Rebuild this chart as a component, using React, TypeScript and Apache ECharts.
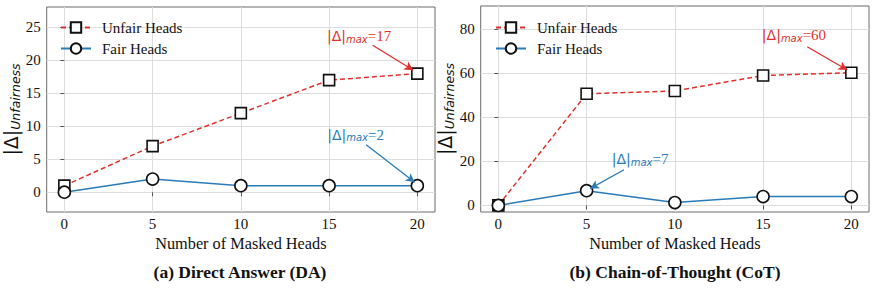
import React, { useEffect, useRef } from "react";
import * as echarts from "echarts";

const X_VALUES = [0, 5, 10, 15, 20];
const DA_UNFAIR = [1, 7, 12, 17, 18];
const DA_FAIR = [0, 2, 1, 1, 1];
const COT_UNFAIR = [0, 50.7, 52, 59, 60.3];
const COT_FAIR = [0, 6.7, 1.3, 4, 4];
const X_TICKS = [0, 5, 10, 15, 20];
const DA_Y_TICKS = [0, 5, 10, 15, 20, 25];
const COT_Y_TICKS = [0, 20, 40, 60, 80];
const PANEL_TITLES = ["(a) Direct Answer (DA)", "(b) Chain-of-Thought (CoT)"];
const LEGEND_NAMES = ["Unfair Heads", "Fair Heads"];

// annotations: [textX, textY, arrowStartX, arrowStartY, arrowEndX, arrowEndY, value]
const DA_UNFAIR_NOTE = [16.7, 23.7, 17.47, 22.3, 19.77, 18.5, 17];
const DA_FAIR_NOTE = [16.5, 8.7, 17.1, 7.2, 19.85, 1.5, 2];
const COT_UNFAIR_NOTE = [16.75, 77.4, 17.5, 72.1, 19.77, 61.5, 60];
const COT_FAIR_NOTE = [8.03, 21, 7.12, 16.2, 5.2, 7.6, 7];

const RED = "#e0322d";
const BLUE = "#2a7bb9";
const SERIF = "Times New Roman";
const SANS = "DejaVu Sans";

const pairs = (ys: number[]) => X_VALUES.map((x, i) => [x, ys[i]]);

const noteRich = (color: string) => ({
  d: { fontFamily: SANS, fontSize: 14, color, verticalAlign: "middle", textBorderWidth: 0 },
  s: { fontFamily: SANS, fontSize: 10, fontStyle: "italic", color, padding: [6, 0, 0, 0], verticalAlign: "middle", textBorderWidth: 0 },
  n: { fontFamily: SERIF, fontSize: 15, color, verticalAlign: "middle", textBorderWidth: 0 },
});

export default function App() {
  const ref = useRef<HTMLDivElement>(null);
  useEffect(() => {
    if (!ref.current) return;
    const chart = echarts.init(ref.current, undefined, { renderer: "svg" });

    const grids = [
      { left: 46.7, top: 7, width: 388.3, height: 205 },
      { left: 480.7, top: 6, width: 388.3, height: 206 },
    ];
    const yRanges = [
      [-3, 28.1],
      [-3, 90.6],
    ];
    const yTicks = [DA_Y_TICKS, COT_Y_TICKS];
    const data = [
      [DA_UNFAIR, DA_FAIR],
      [COT_UNFAIR, COT_FAIR],
    ];
    const notes = [
      [DA_UNFAIR_NOTE, DA_FAIR_NOTE],
      [COT_UNFAIR_NOTE, COT_FAIR_NOTE],
    ];

    const series: any[] = [];
    [0, 1].forEach((g) => {
      const [unfair, fair] = data[g];
      const [nu, nf] = notes[g];
      series.push({
        name: LEGEND_NAMES[0],
        type: "line",
        xAxisIndex: g,
        yAxisIndex: g,
        data: pairs(unfair),
        symbol: "rect",
        symbolSize: 11,
        showAllSymbol: true,
        lineStyle: { color: RED, width: 1.5, type: [5, 3] },
        itemStyle: { color: "#fff", borderColor: "#111", borderWidth: 1.6 },
        z: 3,
      });
      series.push({
        name: LEGEND_NAMES[1],
        type: "line",
        xAxisIndex: g,
        yAxisIndex: g,
        data: pairs(fair),
        symbol: "circle",
        symbolSize: 12,
        lineStyle: { color: BLUE, width: 1.5 },
        itemStyle: { color: "#fff", borderColor: "#111", borderWidth: 1.6 },
        z: 4,
      });
      [
        [nu, RED],
        [nf, BLUE],
      ].forEach(([n, color]: any) => {
        series.push({
          type: "scatter",
          xAxisIndex: g,
          yAxisIndex: g,
          symbol: "circle",
          symbolSize: 1,
          itemStyle: { color: "rgba(0,0,0,0)" },
          silent: true,
          data: [[n[0], n[1]]],
          z: 5,
          label: {
            show: true,
            position: "inside",
            color,
            opacity: 1,
            textBorderWidth: 0,
            formatter: `{d||Δ|}{s|max}{n|=${n[6]}}`,
            rich: noteRich(color),
          },
          markLine: {
            silent: true,
            symbol: ["none", "arrow"],
            symbolSize: [7, 9],
            label: { show: false },
            lineStyle: { color, width: 1.3, type: "solid" },
            data: [[{ coord: [n[2], n[3]] }, { coord: [n[4], n[5]] }]],
          },
        });
      });
    });

    const option: any = {
      animation: false,
      grid: grids.map((gr) => ({
        ...gr,
        show: true,
        borderColor: "#6a6a6a",
        borderWidth: 1,
        backgroundColor: "transparent",
      })),
      legend: [0, 1].map((g) => ({
        data: LEGEND_NAMES,
        orient: "vertical",
        left: g === 0 ? 55 : 490,
        top: 15,
        itemWidth: 30,
        itemHeight: 13,
        itemGap: 6,
        textStyle: { fontFamily: SERIF, fontSize: 15, color: "#111", padding: [0, 0, 0, 6] },
        selectedMode: false,
      })),
      xAxis: [0, 1].map((g) => ({
        type: "value",
        gridIndex: g,
        min: -1,
        max: 21,
        splitNumber: 5,
        name: "Number of Masked Heads",
        nameLocation: "middle",
        nameGap: 21,
        nameTextStyle: { fontFamily: SERIF, fontSize: 16.3, color: "#111" },
        axisLine: { show: false },
        axisTick: { show: true, length: 4, lineStyle: { color: "#555" }, customValues: X_TICKS },
        axisLabel: {
          fontFamily: SERIF,
          fontSize: 15,
          color: "#111",
          margin: 4,
          customValues: X_TICKS,
        },
        splitLine: { show: true, lineStyle: { color: "#dddddd", width: 1 } },
      })),
      yAxis: [0, 1].map((g) => ({
        type: "value",
        gridIndex: g,
        min: yRanges[g][0],
        max: yRanges[g][1],
        splitNumber: 6,
        name: "{a||Δ|}{b|Unfairness}",
        nameLocation: "middle",
        nameRotate: 90,
        nameGap: 24,
        nameTextStyle: {
          rich: {
            a: { fontFamily: SANS, fontSize: 19, color: "#111", verticalAlign: "middle" },
            b: { fontFamily: SANS, fontSize: 12.5, fontStyle: "italic", color: "#111", padding: [8, 0, 0, 0], verticalAlign: "middle" },
          },
        },
        axisLine: { show: false },
        axisTick: { show: true, length: 4, lineStyle: { color: "#555" }, customValues: yTicks[g] },
        axisLabel: {
          fontFamily: SERIF,
          fontSize: 15,
          color: "#111",
          margin: 6,
          customValues: yTicks[g],
        },
        splitLine: { show: true, lineStyle: { color: "#dddddd", width: 1 } },
      })),
      series,
      graphic: PANEL_TITLES.map((t, i) => ({
        type: "text",
        x: i === 0 ? 240 : 675,
        y: 272,
        style: {
          text: t,
          fontFamily: SERIF,
          fontSize: 17.5,
          fontWeight: "bold",
          fill: "#111",
          align: "center",
          verticalAlign: "middle",
        },
      })),
    };
    chart.setOption(option);
    return () => chart.dispose();
  }, []);
  return (
    <div
      ref={ref}
      style={{ position: "fixed", left: 0, top: 0, width: 877, height: 292, background: "#fff" }}
    />
  );
}
